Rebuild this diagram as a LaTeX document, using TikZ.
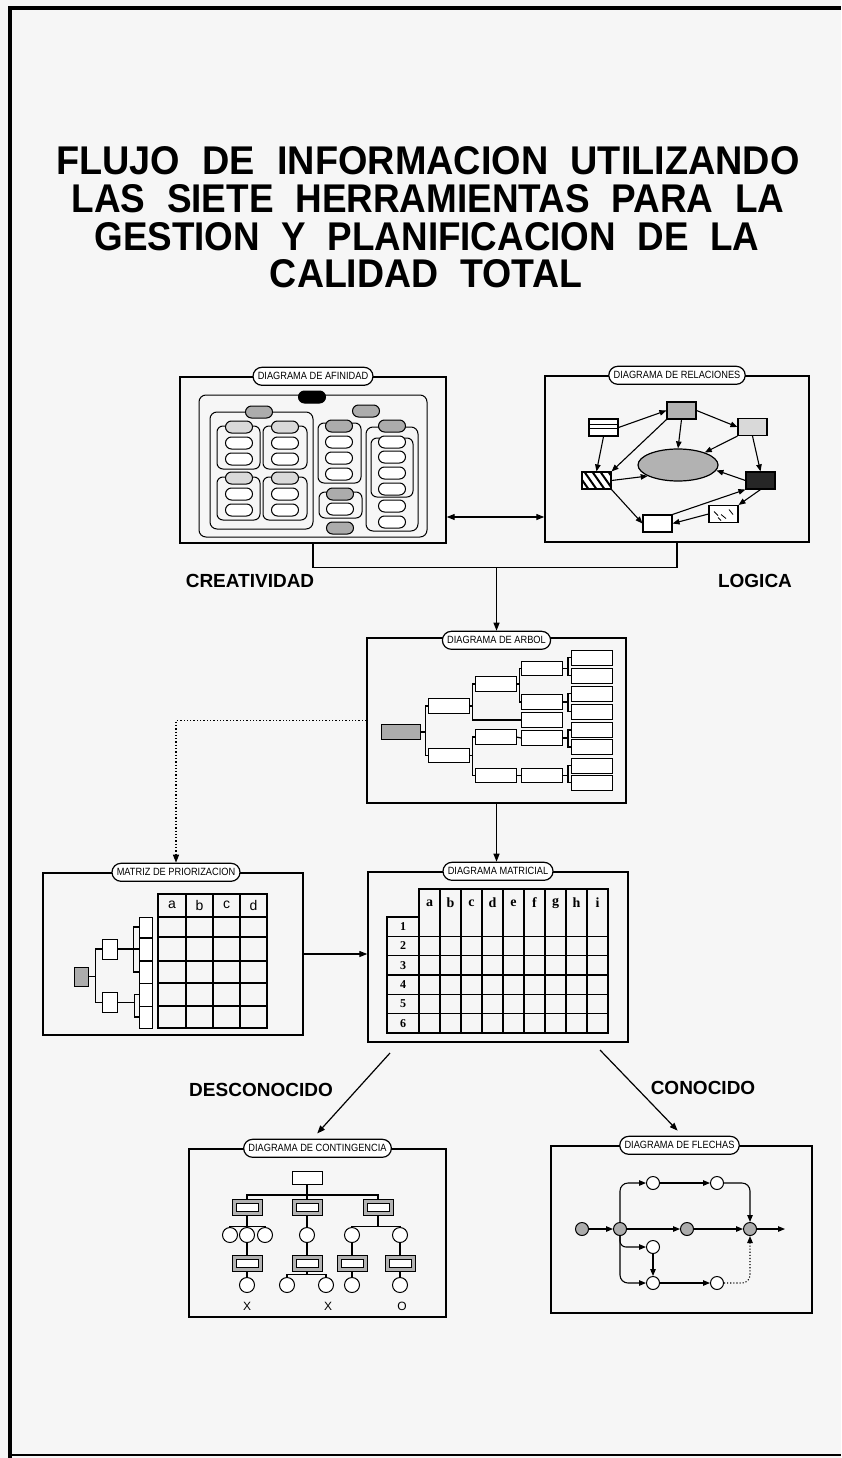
\documentclass[tikz,border=0pt]{standalone}
\usepackage{fontspec}
\setmainfont{Liberation Sans}
\newfontfamily\narrowsf{Liberation Sans}[FakeStretch=0.88]
\newfontfamily\titlesf{Liberation Sans}[FakeStretch=0.85]
\newfontfamily\serifbf{Liberation Serif}
\newcommand{\tgap}{\hspace{0.5em}}
\usetikzlibrary{arrows.meta,shapes.misc,shapes.geometric,calc}
\begin{document}
\begin{tikzpicture}[x=1pt,y=-1pt,
 bigbox/.style={draw, line width=1.4pt, inner sep=0pt},
 titleline/.style={inner sep=0pt, font=\titlesf\bfseries},
 titlepill/.style={draw, rounded rectangle, fill=white, line width=1.2pt, font=\narrowsf\fontsize{10.5}{11}\selectfont, inner xsep=4pt, inner ysep=2pt, minimum height=18pt},
 pill/.style={draw, rounded rectangle, line width=1pt, minimum width=27pt, minimum height=12pt, inner sep=0pt, fill=white},
 dpill/.style={pill, fill=gray!65},
 lpill/.style={pill, fill=gray!30},
 bpill/.style={pill, fill=black},
 grp/.style={draw, line width=1pt, rounded corners=7pt},
 conn/.style={line width=1.2pt},
 arr/.style={-{Triangle[length=8pt,width=6pt]}, line width=1.2pt},
 sarr/.style={-{Triangle[length=7pt,width=5.5pt]}, line width=1.1pt},
 rbox/.style={draw, line width=1.1pt, minimum width=29pt, minimum height=17pt, inner sep=0pt, fill=white},
 tbox/.style={draw, line width=1pt, minimum width=41pt, minimum height=14.5pt, inner sep=0pt, fill=white},
 mbox/.style={draw, line width=1pt, inner sep=0pt, fill=white},
 kbox/.style={draw, line width=1pt, minimum width=30pt, minimum height=16pt, inner sep=0pt, fill=gray!60,
   path picture={\draw[fill=white, line width=0.8pt] ([shift={(4pt,-4pt)}]path picture bounding box.north west) rectangle ([shift={(-4pt,4pt)}]path picture bounding box.south east);}},
 kcirc/.style={draw, circle, line width=1pt, minimum size=15pt, inner sep=0pt, fill=white},
 fcirc/.style={draw, circle, line width=1pt, minimum size=13pt, inner sep=0pt, fill=white},
 fdot/.style={fcirc, fill=gray!65},
 biglabel/.style={font=\bfseries\fontsize{19}{22}\selectfont},
 hatch/.style={path picture={\foreach \k in {-36,-28,...,36} \draw[line width=2pt] ([xshift=\k pt]path picture bounding box.north) -- ++(14pt,-20pt);}},
]
\useasboundingbox (0,0) rectangle (841,1458);
\fill[gray!7] (0,0) rectangle (841,1458);
% frame
\draw[line width=4pt] (10,1458) -- (10,8) -- (841,8);
\draw[line width=2pt] (10,1455) -- (841,1455);

% title
\node[titleline] (t1) at (428,161) {\resizebox{743pt}{28pt}{FLUJO\tgap DE\tgap INFORMACION\tgap UTILIZANDO}};
\node[titleline] (t2) at (428,199) {\resizebox{713pt}{28pt}{LAS\tgap SIETE\tgap HERRAMIENTAS\tgap PARA\tgap LA}};
\node[titleline] (t3) at (427,237) {\resizebox{665pt}{28pt}{GESTION\tgap Y\tgap PLANIFICACION\tgap DE\tgap LA}};
\node[titleline] (t4) at (426,274) {\resizebox{312pt}{28pt}{CALIDAD\tgap TOTAL}};

% ===== big boxes =====
\node[bigbox, minimum width=266pt, minimum height=166pt] (afin) at (313,460) {};
\node[bigbox, minimum width=264pt, minimum height=166pt] (rel) at (677,459) {};
\node[bigbox, minimum width=259pt, minimum height=165pt] (arb) at (496.5,720.5) {};
\node[bigbox, minimum width=260pt, minimum height=162pt] (prior) at (173,954) {};
\node[bigbox, minimum width=260pt, minimum height=170pt] (matr) at (498,957) {};
\node[bigbox, minimum width=257pt, minimum height=168pt] (cont) at (317.5,1233) {};
\node[bigbox, minimum width=261pt, minimum height=167pt] (flech) at (681.5,1229.5) {};

% ===== Afinidad internals =====
\draw[grp] (199,395) rectangle (427,537);
\draw[grp] (210,412) rectangle (313,529);
\draw[grp, rounded corners=6pt] (217,426) rectangle (260,469);
\draw[grp, rounded corners=6pt] (263,426) rectangle (307,469);
\draw[grp, rounded corners=6pt] (217,477) rectangle (260,520);
\draw[grp, rounded corners=6pt] (263,477) rectangle (307,520);
\draw[grp, rounded corners=6pt] (318,423) rectangle (361,483);
\draw[grp, rounded corners=6pt] (319,492) rectangle (362,518);
\draw[grp] (366,427) rectangle (418,531);
\draw[grp, rounded corners=6pt] (371,438) rectangle (413,497);
\foreach \x/\y/\s [count=\i] in {
  312/397/bpill, 259/412/dpill, 366/411/dpill,
  239/427/lpill, 239/443/pill, 239/459/pill,
  285/427/lpill, 285/443/pill, 285/459/pill,
  239/478/lpill, 239/494/pill, 239/510/pill,
  285/478/lpill, 285/494/pill, 285/510/pill,
  339/426/dpill, 339/442/pill, 339/458/pill, 339/474/pill,
  340/494/dpill, 340/509/pill, 340/528/dpill,
  392/426/dpill, 392/442/pill, 392/457/pill, 392/473/pill, 392/489/pill,
  392/506/pill, 392/522/pill}
  \node[style=\s] (ap\i) at (\x,\y) {};

% ===== Relaciones internals =====
\node[rbox, path picture={\draw[line width=1pt] ([yshift=-5pt]path picture bounding box.north west) -- ([yshift=-5pt]path picture bounding box.north east);
  \draw[line width=1pt] ([yshift=-9pt]path picture bounding box.north west) -- ([yshift=-9pt]path picture bounding box.north east);}] (r1) at (603.5,427.5) {};
\node[rbox, fill=gray!60] (r2) at (681.5,410.5) {};
\node[rbox, fill=gray!30] (r3) at (752.5,427) {};
\node[draw, ellipse, line width=1.2pt, fill=gray!60, minimum width=80pt, minimum height=32pt, inner sep=0pt] (ell) at (678,465) {};
\node[rbox, hatch] (r4) at (596.5,480.5) {};
\node[rbox, fill=black!85] (r5) at (760.5,480.5) {};
\node[rbox, path picture={\draw[line width=0.8pt] ([shift={(5pt,-6pt)}]path picture bounding box.north west) -- ++(4pt,-4pt);
  \draw[line width=0.8pt] ([shift={(12pt,-9pt)}]path picture bounding box.north west) -- ++(5pt,-4pt);
  \draw[line width=0.8pt] ([shift={(20pt,-4pt)}]path picture bounding box.north west) -- ++(4pt,-5pt);
  \draw[line width=0.8pt] ([shift={(9pt,-12pt)}]path picture bounding box.north west) -- ++(3pt,-3pt);}] (r6) at (723.5,514) {};
\node[rbox] (r7) at (657.5,523.5) {};
\draw[sarr] (r1.east) -- (r2.west);
\draw[sarr] (r2.east) -- (r3.west);
\draw[sarr] (r2.south) -- (ell.north);
\draw[sarr] (r2.south west) -- (r4.north east);
\draw[sarr] (r1.south) -- (r4.north);
\draw[sarr] (r4.east) -- (ell.200);
\draw[sarr] (r3.south west) -- (ell.25);
\draw[sarr] (r3.south) -- (r5.north);
\draw[sarr] (r5.west) -- (ell.-8);
\draw[sarr] (r4.south east) -- (r7.west);
\draw[sarr] (r7.north east) -- (r5.south west);
\draw[sarr] (r5.south) -- (r6.north east);
\draw[sarr] (r6.west) -- (r7.east);

% ===== Arbol internals =====
\node[tbox, minimum width=39pt, fill=gray!65] (root) at (400.5,732) {};
\node[tbox] (l1a) at (448.5,706) {};
\node[tbox] (l1b) at (448.5,755.5) {};
\node[tbox] (l2a) at (495.5,684) {};
\node[tbox] (l2b) at (495.5,737) {};
\node[tbox] (l2c) at (495.5,775.5) {};
\node[tbox] (l3a) at (542,668.5) {};
\node[tbox] (l3b) at (542,702) {};
\node[tbox] (l3c) at (542,720) {};
\node[tbox] (l3d) at (542,738) {};
\node[tbox] (l3e) at (542,775.5) {};
\foreach \y [count=\i] in {657.5,675.5,693.5,711.5,730,747,765.5,782.5}
  \node[tbox, minimum height=15pt] (l4\i) at (592,\y) {};
\draw[conn] (root.east) -- ++(5,0) |- (l1a.west);
\draw[conn] (root.east) -- ++(5,0) |- (l1b.west);
\draw[conn] (l1a.east) -- ++(3,0) |- (l2a.west);
\draw[conn] (l1a.east) -- ++(3,0) |- (l3c.west);
\draw[conn] (l1b.east) -- ++(3,0) |- (l2b.west);
\draw[conn] (l1b.east) -- ++(3,0) |- (l2c.west);
\draw[conn] (l2a.east) -- ++(3,0) |- (l3a.west);
\draw[conn] (l2a.east) -- ++(3,0) |- (l3b.west);
\draw[conn] (l2b.east) -- (l3d.west);
\draw[conn] (l2c.east) -- (l3e.west);
\draw[conn] (l3a.east) -- ++(5,0) |- (l41.west);
\draw[conn] (l3a.east) -- ++(5,0) |- (l42.west);
\draw[conn] (l3b.east) -- ++(5,0) |- (l43.west);
\draw[conn] (l3b.east) -- ++(5,0) |- (l44.west);
\draw[conn] (l3d.east) -- ++(5,0) |- (l45.west);
\draw[conn] (l3d.east) -- ++(5,0) |- (l46.west);
\draw[conn] (l3e.east) -- ++(5,0) |- (l47.west);
\draw[conn] (l3e.east) -- ++(5,0) |- (l48.west);

% ===== Matriz de priorizacion internals =====
\draw[line width=1.2pt] (158,894) rectangle (267,1028);
\foreach \x in {186,213,240} \draw[line width=1.2pt] (\x,894) -- (\x,1028);
\foreach \y in {917,937,961,983,1006} \draw[line width=1.2pt] (158,\y) -- (267,\y);
\foreach \x/\c [count=\i] in {172/a,199.5/b,226.5/c,253.5/d}
  \node[font=\fontsize{14}{15}\selectfont] (ph\i) at (\x,905) {\c};
\node[mbox, minimum width=14pt, minimum height=19pt, fill=gray!65] (proot) at (81,976.5) {};
\node[mbox, minimum width=15pt, minimum height=20pt] (p1a) at (109.5,949) {};
\node[mbox, minimum width=15pt, minimum height=20pt] (p1b) at (109.5,1002.5) {};
\foreach \y/\h [count=\i] in {927/20,949/22,972/22,994.5/23,1017/22}
  \node[mbox, minimum width=13pt, minimum height=\h pt] (p2\i) at (145.5,\y) {};
\draw[conn] (proot.east) -- ++(7,0) |- (p1a.west);
\draw[conn] (proot.east) -- ++(7,0) |- (p1b.west);
\draw[conn] (p1a.east) -- ++(16,0) |- (p21.west);
\draw[conn] (p1a.east) -- (p22.west);
\draw[conn] (p1a.east) -- ++(16,0) |- (p23.west);
\draw[conn] (p1b.east) -- ++(17,0) |- (p24.west);
\draw[conn] (p1b.east) -- ++(17,0) |- (p25.west);

% ===== Matricial internals =====
\draw[line width=1.2pt] (419,889) rectangle (608,1033);
\draw[line width=1.2pt] (387,917) rectangle (419,1033);
\foreach \k in {1,...,8} \draw[line width=1.2pt] (419+21*\k,889) -- (419+21*\k,1033);
\foreach \k in {1,...,5} \draw[line width=1.2pt] (387,917+19.33*\k) -- (608,917+19.33*\k);
\foreach \c [count=\i] in {a,b,c,d,e,f,g,h,i}
  \node[font=\serifbf\bfseries\fontsize{14}{15}\selectfont] (mh\i) at (408.5+21*\i,903) {\c};
\foreach \i in {1,...,6}
  \node[font=\serifbf\bfseries\fontsize{12}{13}\selectfont] (mr\i) at (403,907.3+19.33*\i) {\i};

% ===== Contingencia internals =====
\node[mbox, minimum width=30pt, minimum height=13pt] (ctop) at (307,1178) {};
\node[kbox] (k1) at (247,1207) {};
\node[kbox] (k2) at (307,1207) {};
\node[kbox] (k3) at (378,1207) {};
\node[kcirc] (c1) at (230,1235) {};
\node[kcirc] (c2) at (247,1235) {};
\node[kcirc] (c3) at (265,1235) {};
\node[kcirc] (c4) at (307,1235) {};
\node[kcirc] (c5) at (352,1235) {};
\node[kcirc] (c6) at (400,1235) {};
\node[kbox] (k4) at (247,1263) {};
\node[kbox] (k5) at (307,1263) {};
\node[kbox] (k6) at (352,1263) {};
\node[kbox] (k7) at (400,1263) {};
\node[kcirc] (d1) at (247,1285) {};
\node[kcirc] (d2) at (287,1285) {};
\node[kcirc] (d3) at (326,1285) {};
\node[kcirc] (d4) at (352,1285) {};
\node[kcirc] (d5) at (400,1285) {};
\draw[conn] (ctop.south) -- ++(0,10) -| (k1.north);
\draw[conn] (ctop.south) -- ++(0,10) -| (k3.north);
\draw[conn] (ctop.south) -- (k2.north);
\draw[conn] (k1.south) -- ++(0,11) -| (c1.north);
\draw[conn] (k1.south) -- ++(0,11) -| (c3.north);
\draw[conn] (k1.south) -- (c2.north);
\draw[conn] (k2.south) -- (c4.north);
\draw[conn] (k3.south) -- ++(0,11) -| (c5.north);
\draw[conn] (k3.south) -- ++(0,11) -| (c6.north);
\draw[conn] (c2.south) -- (k4.north);
\draw[conn] (c4.south) -- (k5.north);
\draw[conn] (c5.south) -- (k6.north);
\draw[conn] (c6.south) -- (k7.north);
\draw[conn] (k4.south) -- (d1.north);
\draw[conn] (k5.south) -- ++(0,3) -| (d2.north);
\draw[conn] (k5.south) -- ++(0,3) -| (d3.north);
\draw[conn] (k6.south) -- (d4.north);
\draw[conn] (k7.south) -- (d5.north);
\node[font=\fontsize{12}{13}\selectfont] (x1) at (247,1306) {X};
\node[font=\fontsize{12}{13}\selectfont] (x2) at (328,1306) {X};
\node[font=\fontsize{12}{13}\selectfont] (x3) at (402,1306) {O};

% ===== Flechas internals =====
\node[fdot] (f1) at (582,1229) {};
\node[fdot] (f2) at (620,1229) {};
\node[fdot] (f3) at (687,1229) {};
\node[fdot] (f4) at (750,1229) {};
\node[fcirc] (ft1) at (653,1183) {};
\node[fcirc] (ft2) at (717,1183) {};
\node[fcirc] (fm1) at (653,1247) {};
\node[fcirc] (fb1) at (653,1283) {};
\node[fcirc] (fb2) at (717,1283) {};
\coordinate (fout) at (785,1229);
\draw[sarr] (f1) -- (f2);
\draw[sarr] (f2) -- (f3);
\draw[sarr] (f3) -- (f4);
\draw[sarr] (f4) -- (fout);
\draw[sarr, rounded corners=8pt] (f2.north) |- (ft1.west);
\draw[sarr] (ft1) -- (ft2);
\draw[sarr, rounded corners=8pt] (ft2.east) -| (f4.north);
\draw[sarr, rounded corners=6pt] (f2.south) |- (fm1.west);
\draw[sarr, rounded corners=8pt] (f2.south) |- (fb1.west);
\draw[sarr] (fm1) -- (fb1);
\draw[sarr] (fb1) -- (fb2);
\draw[sarr, dotted, rounded corners=8pt] (fb2.east) -| (f4.south);

% ===== title pills =====
\node[titlepill] (afpill) at (afin.north) {DIAGRAMA DE AFINIDAD};
\node[titlepill] (relpill) at (rel.north) {DIAGRAMA DE RELACIONES};
\node[titlepill] (arbpill) at ([yshift=-3pt]arb.north) {DIAGRAMA DE ARBOL};
\node[titlepill] (prpill) at ([xshift=3pt]prior.north) {MATRIZ DE PRIORIZACION};
\node[titlepill] (matpill) at (matr.north) {DIAGRAMA MATRICIAL};
\node[titlepill] (contpill) at (cont.north) {DIAGRAMA DE CONTINGENCIA};
\node[titlepill] (flpill) at ([xshift=-2pt]flech.north) {DIAGRAMA DE FLECHAS};

% ===== connectors between tools =====
\draw[line width=1.2pt, {Triangle[length=8pt,width=6pt]}-{Triangle[length=8pt,width=6pt]}] ($(afin.east)+(0,57)$) -- ($(rel.west)+(0,58)$);
\draw[conn] (afin.south) -- ++(0,24) -| (rel.south);
\coordinate (j1) at (arbpill.north |- 0,567);
\draw[arr] (j1) -- (arbpill.north);
\draw[arr] (arb.south) -- (arb.south |- matpill.north);
\draw[line width=1.3pt, dotted, -{Triangle[length=8pt,width=6pt]}] (arb.west) -| (prpill.north);
\draw[arr] (prior.east) -- (prior.east -| matr.west);
\coordinate (dl) at (390,1053);
\coordinate (dr) at (600,1050);
\draw[arr, shorten >=7pt] (dl) -- ([xshift=-5pt]contpill.north);
\draw[arr, shorten >=7pt] (dr) -- ([xshift=3pt]flpill.north);

% ===== labels =====
\node[biglabel] (crea) at (250,581) {CREATIVIDAD};
\node[biglabel] (logi) at (755,581) {LOGICA};
\node[biglabel] (desc) at (261,1090) {DESCONOCIDO};
\node[biglabel] (cono) at (703,1088) {CONOCIDO};
\end{tikzpicture}
\end{document}
